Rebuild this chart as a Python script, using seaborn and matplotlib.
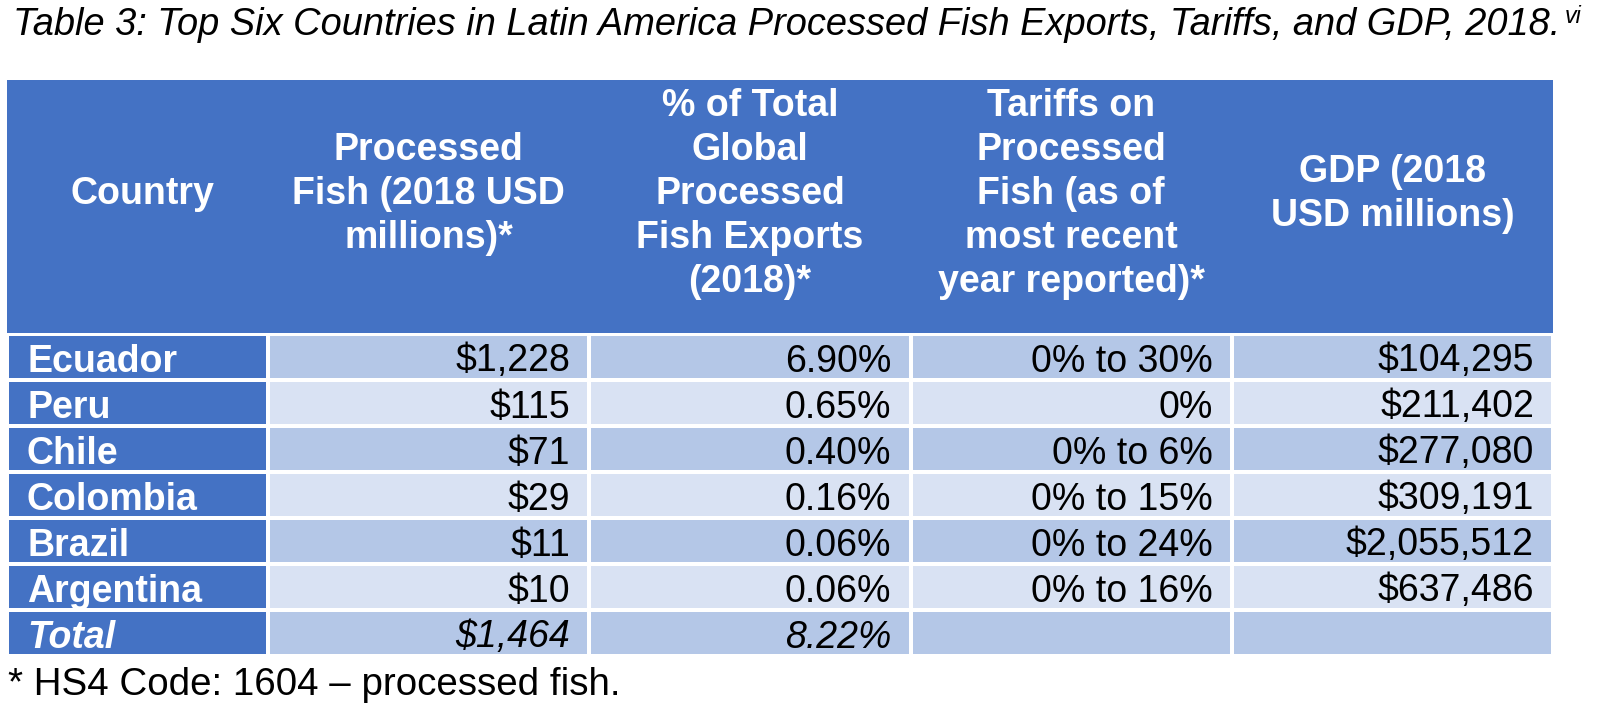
import numpy as np
import pandas as pd
import seaborn as sns
import matplotlib
matplotlib.use("Agg")
import matplotlib.pyplot as plt
from matplotlib.colors import ListedColormap
from matplotlib.patches import Rectangle

# ---------------- data ----------------
title = "Table 3: Top Six Countries in Latin America Processed Fish Exports, Tariffs, and GDP, 2018."
title_sup = "vi"
footnote = "* HS4 Code: 1604 \u2013 processed fish."
headers = [
    ["Country"],
    ["Processed", "Fish (2018 USD", "millions)*"],
    ["% of Total", "Global", "Processed", "Fish Exports", "(2018)*"],
    ["Tariffs on", "Processed", "Fish (as of", "most recent", "year reported)*"],
    ["GDP (2018", "USD millions)"],
]
countries = ["Ecuador", "Peru", "Chile", "Colombia", "Brazil", "Argentina"]
fish_exports = [1228, 115, 71, 29, 11, 10]
global_share = [6.90, 0.65, 0.40, 0.16, 0.06, 0.06]
tariffs = ["0% to 30%", "0%", "0% to 6%", "0% to 15%", "0% to 24%", "0% to 16%"]
gdp = [104295, 211402, 277080, 309191, 2055512, 637486]
total_label = "Total"
total_exports = 1464
total_share = 8.22

# ---------------- table body ----------------
rows = pd.DataFrame({
    "country": countries + [total_label],
    "fish": [f"${v:,}" for v in fish_exports] + [f"${total_exports:,}"],
    "share": [f"{v:.2f}%" for v in global_share] + [f"{total_share:.2f}%"],
    "tariff": tariffs + [""],
    "gdp": [f"${v:,}" for v in gdp] + [""],
})
n_rows = len(rows)
band = np.array([[i % 2] * 4 for i in range(n_rows)])

# ---------------- style ----------------
sns.set_theme(style="white")
plt.rcParams["font.family"] = ["Liberation Sans", "DejaVu Sans"]

BLUE = "#4472C4"
DARK = "#B4C7E7"
LIGHT = "#D9E2F3"

W, H = 1600, 724
fig = plt.figure(figsize=(W / 100, H / 100), dpi=100)
fig.patch.set_facecolor("white")

# layout (pixels)
tab_left, tab_right = 7, 1553
col0_right = 268
head_top, head_bot = 80, 333
body_top, row_h = 334, 46
body_bot = body_top + row_h * n_rows
FS = 27.0  # pt  (~37.5 px)
LW = 1.6

def fig_rect(x0, x1, y0, y1):
    return [x0 / W, 1 - y1 / H, (x1 - x0) / W, (y1 - y0) / H]

# first column (country names)
ax_c = fig.add_axes(fig_rect(tab_left, col0_right, body_top, body_bot))
sns.heatmap(np.zeros((n_rows, 1)), ax=ax_c, cmap=ListedColormap([BLUE]), cbar=False,
            linewidths=LW, linecolor="white", xticklabels=False, yticklabels=False)

# data columns
ax_b = fig.add_axes(fig_rect(col0_right, tab_right, body_top, body_bot))
sns.heatmap(band, ax=ax_b, cmap=ListedColormap([DARK, LIGHT]), vmin=0, vmax=1, cbar=False,
            linewidths=LW, linecolor="white", xticklabels=False, yticklabels=False)

# overlay in pixel coordinates
ax = fig.add_axes([0, 0, 1, 1])
ax.set_xlim(0, W)
ax.set_ylim(H, 0)
ax.axis("off")
ax.patch.set_alpha(0)

# header band
ax.add_patch(Rectangle((tab_left, head_top), tab_right - tab_left, head_bot - head_top,
                       facecolor=BLUE, edgecolor="none"))

col_w = (tab_right - col0_right) / 4
col_edges = [tab_left] + [col0_right + k * col_w for k in range(5)]

# header texts
cap_half = 13.4
line_sp = 44
head_center = 191
for j, lines in enumerate(headers):
    xc = (col_edges[j] + col_edges[j + 1]) / 2 + (5 if j == 0 else 0)
    n = len(lines)
    for i, line in enumerate(lines):
        y = head_center + (i - (n - 1) / 2) * line_sp + cap_half
        ax.text(xc, y, line, ha="center", va="baseline", fontsize=FS,
                fontweight="bold", color="white")

# body texts
for r in range(n_rows):
    yb = body_top + r * row_h + row_h / 2 + 14.5
    is_total = r == n_rows - 1
    ax.text(27, yb, rows["country"][r], ha="left", va="baseline", fontsize=FS,
            fontweight="bold", color="white", style="italic" if is_total else "normal")
    for j, key in enumerate(["fish", "share", "tariff", "gdp"]):
        ax.text(col_edges[j + 2] - 19, yb, rows[key][r], ha="right", va="baseline",
                fontsize=FS, color="black", style="italic" if is_total else "normal")

# title (fit to width)
t = ax.text(13, 35, title, ha="left", va="baseline", fontsize=FS, style="italic", color="black")
fig.canvas.draw()
rend = fig.canvas.get_renderer()
bb = t.get_window_extent(rend)
t.set_fontsize(FS * 1550 / bb.width)
fig.canvas.draw()
bb = t.get_window_extent(rend)
ax.text(bb.x1 + 4, 23, title_sup, ha="left", va="baseline", fontsize=FS * 0.62,
        style="italic", color="black")

# footnote (fit to width)
f = ax.text(8, 695, footnote, ha="left", va="baseline", fontsize=FS, color="black")
fig.canvas.draw()
bb = f.get_window_extent(rend)
f.set_fontsize(FS * 612 / bb.width)

fig.savefig("out.png", dpi=100, facecolor="white")
